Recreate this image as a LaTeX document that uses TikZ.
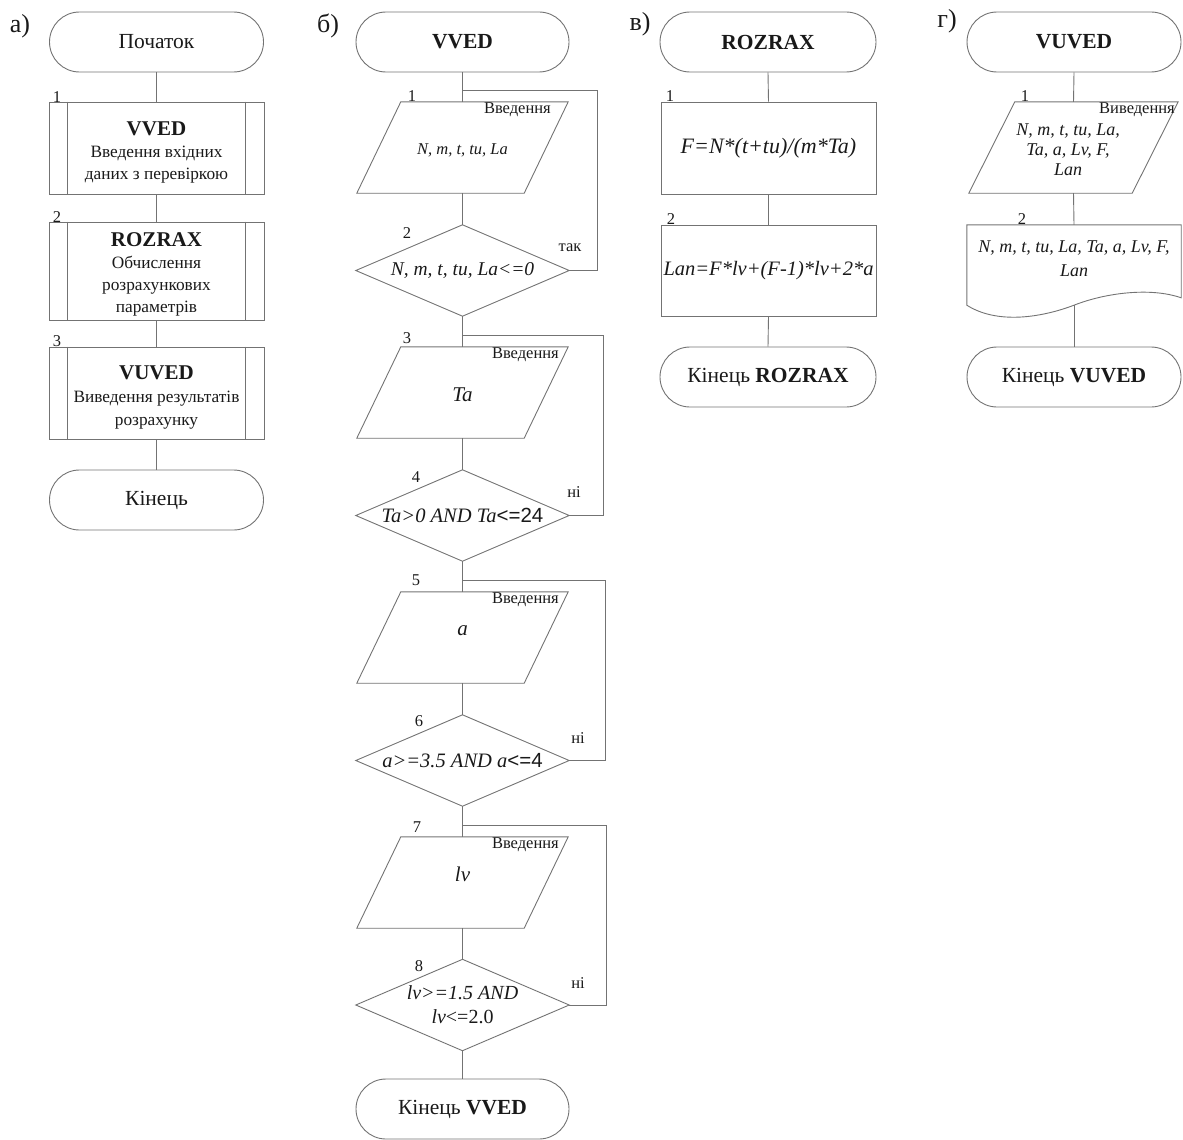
\documentclass[tikz,border=0pt]{standalone}
\usepackage{fontspec}
\setmainfont{Liberation Serif}
\newfontfamily\sansf{Liberation Sans}
\usetikzlibrary{calc}
\definecolor{lncol}{RGB}{115,115,115}
\definecolor{txcol}{RGB}{25,25,25}
\newcommand\fs[2]{\fontsize{#1}{#2}\selectfont}
\newcommand\drawpara[2]{\draw[lin] ($(#1.north west)+(#2,0)$) -- (#1.north east) -- ($(#1.south east)+(-#2,0)$) -- (#1.south west) -- cycle;}
\newcommand\drawdia[1]{\draw[lin] (#1.north) -- (#1.east) -- (#1.south) -- (#1.west) -- cycle;}
\newcommand\drawpp[1]{\draw[lin] ($(#1.north west)+(19,0)$) -- ($(#1.south west)+(19,0)$) ($(#1.north east)+(-19,0)$) -- ($(#1.south east)+(-19,0)$);}
\begin{document}
\begin{tikzpicture}[x=1pt,y=-1pt,
  lin/.style={draw=lncol, line width=0.9pt},
  term/.style={rectangle, rounded corners=30pt, draw=lncol, line width=0.9pt, minimum width=214pt, minimum height=60pt, inner sep=0pt, text=txcol, font=\fs{21.5}{24}},
  box/.style={rectangle, draw=lncol, line width=0.9pt, minimum width=215pt, inner sep=0pt, align=center, text=txcol},
  shp/.style={rectangle, draw=none, inner sep=0pt, align=center, text=txcol},
  txt/.style={inner sep=0pt, align=center, text=txcol},
  num/.style={inner sep=0pt, text=txcol, font=\fs{16.5}{18}},
  panel/.style={inner sep=0pt, text=txcol, font=\fs{26}{28}},
]
\useasboundingbox (0,0) rectangle (1183,1140);

% ---------------- panel a
\node[panel] (pa) at (20,26) {а)};
\node[term] (a0) at (156.5,42) {Початок};
\node[box, minimum height=92pt] (a1) at (156.5,148) {};
\node[txt, font=\fs{17.3}{22}] (a1t) at (156.5,152)
  {{\fs{21}{22}\bfseries VVED}\\Введення вхідних\\даних з перевіркою};
\node[box, minimum height=98pt] (a2) at (156.5,271) {};
\node[txt, font=\fs{17.3}{22}] (a2t) at (156.5,274)
  {{\fs{21}{22}\bfseries ROZRAX}\\Обчислення\\розрахункових\\параметрів};
\node[box, minimum height=92pt] (a3) at (156.5,393) {};
\node[txt, font=\fs{17.3}{23}] (a3t) at (156.5,397)
  {{\fs{21}{23}\bfseries VUVED}\\Виведення результатів\\розрахунку};
\node[term] (a4) at (156.5,500) {Кінець};
\drawpp{a1}\drawpp{a2}\drawpp{a3}
\node[num] (na1) at (57,97) {1};
\node[num] (na2) at (57,217) {2};
\node[num] (na3) at (57,341) {3};
\draw[lin] (a0.south) -- (a1.north);
\draw[lin] (a1.south) -- (a2.north);
\draw[lin] (a2.south) -- (a3.north);
\draw[lin] (a3.south) -- (a4.north);

% ---------------- panel b
\node[panel] (pb) at (328,26) {б)};
\node[term, minimum width=213pt] (b0) at (462.5,42) {\textbf{VVED}};
\node[shp, minimum width=211pt, minimum height=91pt] (b1) at (462.5,147.5) {};
\node[txt, font=\fs{16.5}{19}\itshape] (b1t) at (462.5,150) {N, m, t, tu, La};
\node[shp, minimum width=213pt, minimum height=91pt, font=\fs{19.5}{22}\itshape] (b2) at (462.5,270.5) {N, m, t, tu, La<=0};
\node[shp, minimum width=211pt, minimum height=91pt] (b3) at (462.5,392.5) {};
\node[txt, font=\fs{21}{22}\itshape] (b3t) at (462.5,395) {Ta};
\node[shp, minimum width=213pt, minimum height=91pt, font=\fs{20.5}{22}\itshape] (b4) at (462.5,515.5) {Ta>0 AND Ta{\sansf\upshape <=24}};
\node[shp, minimum width=211pt, minimum height=91pt] (b5) at (462.5,637.5) {};
\node[txt, font=\fs{21}{22}\itshape] (b5t) at (462.5,631) {a};
\node[shp, minimum width=213pt, minimum height=91pt, font=\fs{20.5}{22}\itshape] (b6) at (462.5,760.5) {a>=3.5 AND a{\sansf\upshape <=4}};
\node[shp, minimum width=211pt, minimum height=91pt] (b7) at (462.5,882.5) {};
\node[txt, font=\fs{21}{22}\itshape] (b7t) at (462.5,874) {lv};
\node[shp, minimum width=213pt, minimum height=91pt, font=\fs{20}{24}\itshape] (b8) at (462.5,1005) {lv>=1.5 AND\\lv{\upshape <=2.0}};
\node[term, minimum width=213pt] (b9) at (462.5,1109) {Кінець \textbf{VVED}};
\drawpara{b1}{44}\drawdia{b2}\drawpara{b3}{44}\drawdia{b4}
\drawpara{b5}{44}\drawdia{b6}\drawpara{b7}{44}\drawdia{b8}

\node[num] (nb1) at (412,96) {1};
\node[num] (nb2) at (407,233) {2};
\node[num] (nb3) at (407,338) {3};
\node[num] (nb4) at (416,477) {4};
\node[num] (nb5) at (416,580) {5};
\node[num] (nb6) at (419,721) {6};
\node[num] (nb7) at (417,827) {7};
\node[num] (nb8) at (419,966) {8};
\node[num, anchor=north east] (vb1) at (551,102) {Введення};
\node[num, anchor=north east] (vb3) at (559,347) {Введення};
\node[num, anchor=north east] (vb5) at (559,592) {Введення};
\node[num, anchor=north east] (vb7) at (559,837) {Введення};
\node[num] (yes2) at (570,248) {так};
\node[num] (no4) at (574,492) {ні};
\node[num] (no6) at (578,738) {ні};
\node[num] (no8) at (578,983) {ні};

\coordinate (j1) at (462.5,90);
\coordinate (j3) at (462.5,335);
\coordinate (j5) at (462.5,580);
\coordinate (j7) at (462.5,825);
\draw[lin] (b0.south) -- (b1.north);
\draw[lin] (b1.south) -- (b2.north);
\draw[lin] (b2.south) -- (b3.north);
\draw[lin] (b3.south) -- (b4.north);
\draw[lin] (b4.south) -- (b5.north);
\draw[lin] (b5.south) -- (b6.north);
\draw[lin] (b6.south) -- (b7.north);
\draw[lin] (b7.south) -- (b8.north);
\draw[lin] (b8.south) -- (b9.north);
\draw[lin] (b2.east) -- ++(28.5,0) |- (j1);
\draw[lin] (b4.east) -- ++(34,0) |- (j3);
\draw[lin] (b6.east) -- ++(36,0) |- (j5);
\draw[lin] (b8.east) -- ++(37,0) |- (j7);

% ---------------- panel v
\node[panel] (pc) at (640,24) {в)};
\node[term, minimum width=216pt] (c0) at (768,42) {\textbf{ROZRAX}};
\node[box, minimum height=92pt, font=\fs{22}{24}\itshape] (c1) at (768.5,148) {F=N*(t+tu)/(m*Ta)};
\node[box, minimum height=91pt, font=\fs{20.5}{22}\itshape] (c2) at (768.5,270.5) {Lan=F*lv+(F-1)*lv+2*a};
\node[term, minimum width=216pt] (c3) at (768,377) {Кінець \textbf{ROZRAX}};
\node[num] (nc1) at (670,96) {1};
\node[num] (nc2) at (671,219) {2};
\draw[lin] (c0.south) -- (c1.north);
\draw[lin] (c1.south) -- (c2.north);
\draw[lin] (c2.south) -- (c3.north);

% ---------------- panel g
\node[panel] (pd) at (947,21) {г)};
\node[term] (d0) at (1074,42) {\textbf{VUVED}};
\node[shp, minimum width=209pt, minimum height=91pt] (d1) at (1073.5,147.5) {};
\drawpara{d1}{46}
\node[txt, font=\fs{18}{20}\itshape] (d1t) at (1068,150) {N, m, t, tu, La,\\Ta, a, Lv, F,\\Lan};
\node[num] (vd1) at (1137,110) {Виведення};
\node[shp, minimum width=214pt, minimum height=80pt] (d2) at (1074,265) {};
\draw[lin] (d2.south) .. controls (1043,317) and (998,325) .. (d2.south west) -- (d2.north west) -- (d2.north east) -- ++(0,73) .. controls (1150,287) and (1105,293) .. (d2.south);
\node[txt, font=\fs{18}{24}\itshape] (d2t) at (1074,259) {N, m, t, tu, La, Ta, a, Lv, F,\\Lan};
\node[term] (d3) at (1074,377) {Кінець \textbf{VUVED}};
\node[num] (nd1) at (1025,96) {1};
\node[num] (nd2) at (1022,219) {2};
\draw[lin] (d0.south) -- (d1.north);
\draw[lin] (d1.south) -- (d2.north);
\draw[lin] (d2.south) -- (d3.north);
\end{tikzpicture}
\end{document}
